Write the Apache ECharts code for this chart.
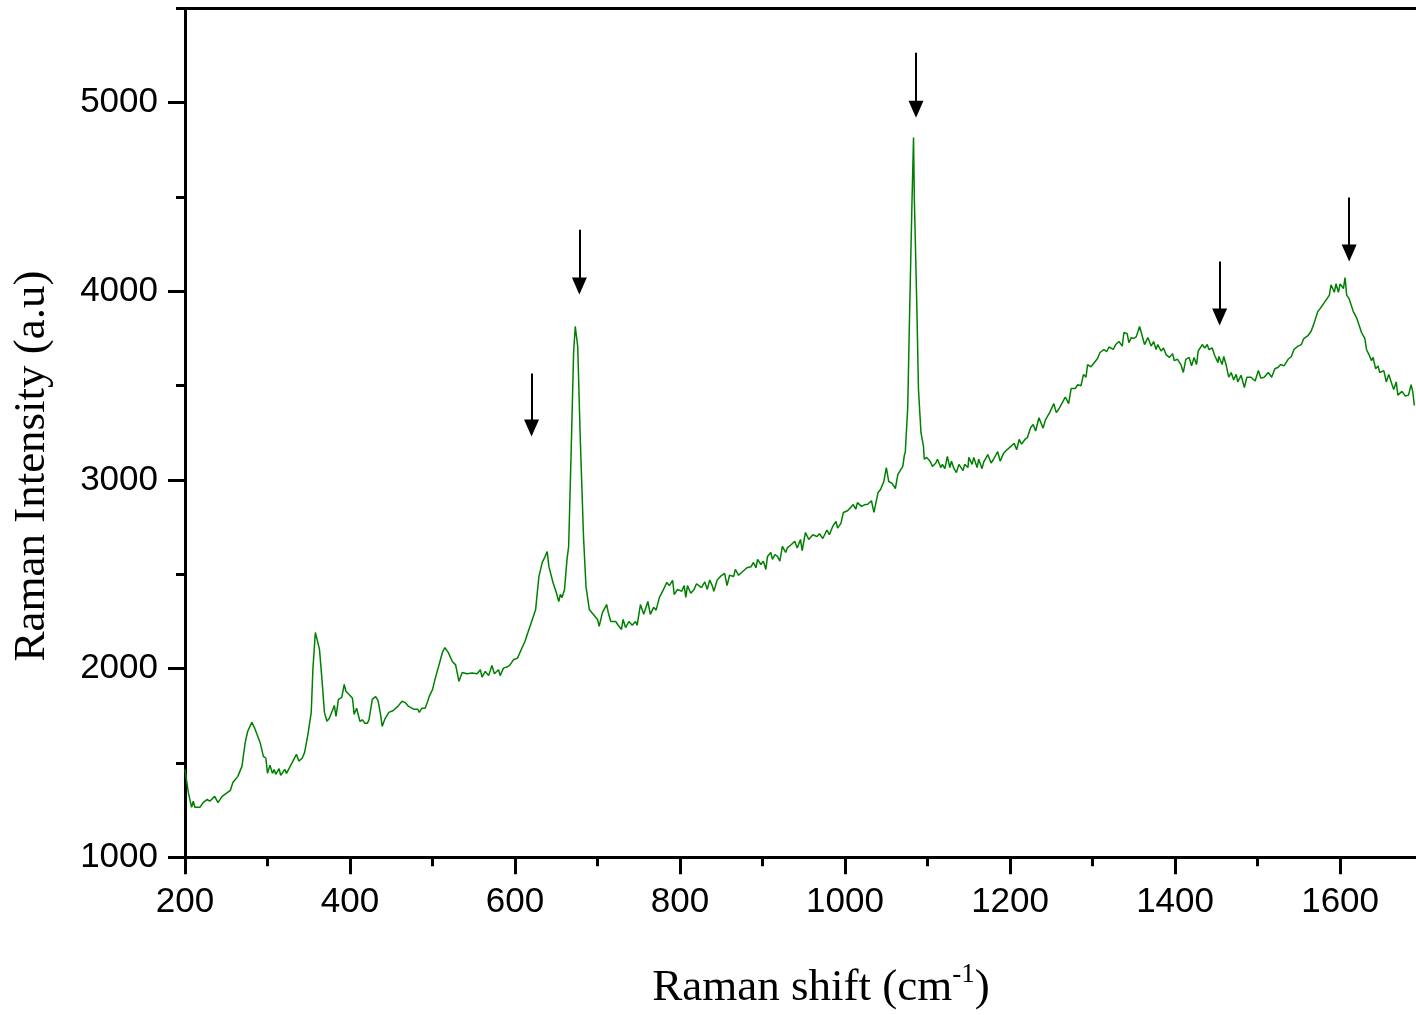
<!DOCTYPE html>
<html>
<head>
<meta charset="utf-8">
<script src="https://cdn.jsdelivr.net/npm/echarts@6/dist/echarts.min.js"></script>
<style>html,body{margin:0;padding:0;background:#fff;overflow:hidden}#c{width:1416px;height:1015px}</style>
</head>
<body>
<div id="c"></div>
<script>
// Raman shift (cm-1)
const ramanShift = [200,204,208,210,212,218,222,227,230,236,240,245,255,258,264,269,273,276,281,284,286,291,295,298,300,303,306,308,310,314,316,321,323,330,335,338,342,345,349,353,355,358,360,363,366,369,372,375,377,381,383,386,390,393,395,400,403,405,408,412,415,418,421,423,427,431,434,437,
439,442,444,447,452,458,463,467,471,477,482,484,487,491,494,496,500,503,507,512,515,519,524,528,530,532,536,542,548,554,558,560,564,568,572,575,580,582,586,591,594,598,603,606,612,616,621,625,627,629,633,636,639,641,643,646,650,653,655,657,660,663,665,668,671,673,676,679,683,686,690,693,695,700,702,706,708,711,713,716,722,725,729,731,734,738,742,746,748,752,756,761,764,768,771,775,780,784,787,791,793,797,802,805,807,809,813,817,820,826,830,833,836,839,841,845,849,854,857,860,865,867,871,876,881,886,889,892,894,898,901,904,906,910,912,915,918,921,924,928,930,935,939,942,946,948,952,956,961,966,969,973,978,981,985,989,991,995,998,
1003,1007,1010,1013,1015,1020,1024,1027,1032,1035,1040,1043,1047,1050,1053,1057,1061,1064,1066,1070,1072,1073,1076,1078,1081,1083,1084,1087,1089,1092,1095,1096,1099,1103,1106,1110,1112,1116,1118,1121,1124,1127,1129,1132,1135,1138,1143,1145,1149,1150,1154,1156,1160,1162,1166,1168,1173,1177,1180,1185,1188,1192,1195,1197,1201,1205,1208,1211,1214,1218,1221,1225,1228,1231,1235,1240,1243,1248,1253,1256,1259,1264,1267,1271,1274,1279,1282,1286,1289,1292,1294,1298,1302,1306,1309,1314,1317,1320,1325,1328,1332,1336,1338,1342,1344,1347,1350,1353,1355,1357,1361,1363,1367,1371,1374,1377,1379,1383,1386,1389,1393,1397,1399,1403,1407,1410,1413,1417,1420,1423,1426,1428,1433,1436,1439,1441,1445,1448,1452,1453,1457,1459,1462,1465,1468,1471,1474,1476,1480,1484,1487,1492,1497,1501,1504,1508,1513,1517,1521,1525,1528,1532,1537,1541,1544,1549,1553,1556,1561,1565,1568,1573,1576,1580,1584,1587,1589,1593,1595,1598,1600,1604,1606,1608,1611,1616,1620,1622,1626,1630,1632,1635,1638,1640,1643,1646,1648,1653,1656,1659,1663,1665,1668,1670,1675,1679,1683,1686,1688,1690];
// Raman intensity (a.u)
const intensity = [1466,1344,1265,1297,1265,1265,1290,1307,1297,1323,1290,1323,1355,1397,1429,1482,1609,1668,1715,1689,1690,1609,1535,1525,1445,1488,1445,1465,1440,1470,1435,1466,1445,1503,1546,1510,1525,1556,1652,1768,1996,2192,2200,2102,1943,1768,1721,1737,1732,1805,1747,1837,1848,1917,1880,1858,1843,1758,1790,1721,1729,1710,1710,1729,1837,1852,1830,1758,
1694,1731,1741,1768,1777,1800,1827,1820,1800,1785,1785,1768,1790,1790,1825,1853,1889,1943,2006,2086,2111,2086,2038,2020,2010,1933,1980,1973,1977,1973,1994,1955,1985,1963,2017,1973,1994,1963,2003,2010,2020,2047,2056,2086,2144,2197,2261,2314,2404,2489,2563,2590,2621,2542,2537,2457,2404,2356,2394,2377,2420,2579,2648,3146,3676,3814,3707,3231,2701,2436,2314,2298,2300,2261,2224,2298,2314,2340,2298,2250,2250,2230,2208,2261,2218,2250,2230,2250,2230,2340,2288,2356,2288,2325,2310,2378,2420,2457,2440,2468,2393,2420,2410,2440,2378,2440,2400,2420,2450,2430,2460,2420,2470,2440,2410,2470,2489,2505,2440,2495,2489,2526,2495,2515,2535,2540,2563,2535,2579,2552,2570,2526,2595,2616,2579,2605,2595,2570,2648,2616,2640,2658,2675,2640,2685,2625,2722,2685,2710,2700,2715,2690,2735,2710,2754,2780,2745,2770,2828,
2837,2855,2870,2845,2880,2860,2870,2870,2890,2828,2934,2950,2992,3066,2992,2982,2955,3030,3020,3072,3135,3146,3390,3834,4450,4815,4486,3920,3480,3252,3180,3110,3120,3100,3072,3090,3110,3066,3083,3060,3125,3066,3100,3060,3040,3083,3050,3083,3066,3120,3083,3120,3066,3110,3060,3095,3135,3090,3110,3150,3100,3140,3155,3150,3178,3195,3160,3215,3190,3215,3225,3278,3294,3260,3330,3275,3320,3357,3405,3357,3375,3416,3440,3405,3485,3485,3505,3500,3560,3545,3612,3600,3622,3644,3676,3692,3680,3705,3692,3718,3734,3710,3782,3775,3728,3755,3750,3760,3755,3814,3750,3718,3755,3710,3734,3692,3718,3684,3700,3665,3650,3670,3633,3640,3612,3570,3640,3650,3605,3650,3612,3684,3718,3700,3718,3692,3700,3660,3622,3655,3612,3655,3608,3545,3570,3530,3560,3520,3555,3490,3545,3545,3525,3580,3540,3545,3570,3545,3590,3598,3612,3605,3640,3655,3692,3710,3718,3750,3765,3790,3825,3893,3910,3935,3960,3980,4035,3995,4040,3995,4040,4015,4073,3980,3960,3893,3860,3850,3782,3750,3692,3665,3633,3650,3590,3605,3570,3580,3520,3560,3505,3480,3520,3450,3470,3445,3450,3505,3470,3395];

// Peak-marker arrows (x position, tail value, head value)
const arrowX = [620, 678, 1086, 1454, 1611];
const arrowTail = [3564, 4327, 5265, 4158, 4497];
const arrowHead = [3276, 4028, 4966, 3864, 4203];

// Tick labels / tick values
const xTicks = [200, 400, 600, 800, 1000, 1200, 1400, 1600];
const xMinorTicks = [300, 500, 700, 900, 1100, 1300, 1500, 1700];
const yTicks = [1000, 2000, 3000, 4000, 5000];
const yMinorTicks = [1500, 2500, 3500, 4500, 5500];

const seriesData = ramanShift.map((x, i) => [x, intensity[i]]);
const arrowData = arrowX.map((x, i) => [{coord: [x, arrowTail[i]]}, {coord: [x, arrowHead[i]]}]);

const chart = echarts.init(document.getElementById('c'), null, {renderer: 'canvas'});
const sans = 'Liberation Sans, Arial, sans-serif';
const serif = 'Liberation Serif, Times New Roman, serif';
const axLine = {show: true, onZero: false, lineStyle: {color: '#000', width: 3}};
const X_MIN = 200, X_MAX = 1692, Y_MIN = 1000, Y_MAX = 5500;
const plain = v => String(v);

chart.setOption({
  animation: false,
  backgroundColor: '#fff',
  grid: {left: 185, top: 8.4, right: 0, bottom: 157.7, containLabel: false},
  xAxis: [
    {type: 'value', min: X_MIN, max: X_MAX, interval: 200, position: 'bottom',
     axisLine: axLine,
     axisTick: {show: true, inside: false, length: 17, lineStyle: {color: '#000', width: 3}, customValues: xTicks},
     axisLabel: {show: true, customValues: xTicks, formatter: plain, fontSize: 35, color: '#000', fontFamily: sans, margin: 28},
     splitLine: {show: false}},
    {type: 'value', min: X_MIN, max: X_MAX, interval: 100, position: 'bottom',
     axisLine: {show: false},
     axisTick: {show: true, length: 9, lineStyle: {color: '#000', width: 3}, customValues: xMinorTicks},
     axisLabel: {show: false}, splitLine: {show: false}},
    {type: 'value', min: X_MIN, max: X_MAX, interval: 100, position: 'top',
     axisLine: axLine, axisTick: {show: false}, axisLabel: {show: false}, splitLine: {show: false}}
  ],
  yAxis: [
    {type: 'value', min: Y_MIN, max: Y_MAX, interval: 1000, position: 'left',
     axisLine: axLine,
     axisTick: {show: true, inside: false, length: 17, lineStyle: {color: '#000', width: 3}, customValues: yTicks},
     axisLabel: {show: true, customValues: yTicks, formatter: plain, fontSize: 35, color: '#000', fontFamily: sans, margin: 27},
     splitLine: {show: false}},
    {type: 'value', min: Y_MIN, max: Y_MAX, interval: 500, position: 'left',
     axisLine: {show: false},
     axisTick: {show: true, length: 9, lineStyle: {color: '#000', width: 3}, customValues: yMinorTicks},
     axisLabel: {show: false}, splitLine: {show: false}}
  ],
  series: [{
    type: 'line', xAxisIndex: 0, yAxisIndex: 0,
    data: seriesData, showSymbol: false, symbol: 'none',
    lineStyle: {color: '#008000', width: 1.5}, silent: true,
    markLine: {
      silent: true, animation: false,
      symbol: ['none', 'triangle'], symbolSize: [15, 17],
      label: {show: false},
      lineStyle: {color: '#000', width: 2, type: 'solid'},
      itemStyle: {color: '#000'},
      emphasis: {disabled: true},
      data: arrowData
    }
  }],
  graphic: [
    {type: 'text', x: 821, y: 988, silent: true,
     style: {text: '{a|Raman shift (cm}{s|-1}{a|)}', align: 'center', verticalAlign: 'middle',
       rich: {a: {fontSize: 45, fontFamily: serif, fill: '#000', lineHeight: 52},
              s: {fontSize: 27, fontFamily: serif, fill: '#000', lineHeight: 52, padding: [0, 0, 26, 0]}}}},
    {type: 'text', x: 32, y: 466, rotation: Math.PI / 2, silent: true,
     style: {text: 'Raman Intensity (a.u)', align: 'center', verticalAlign: 'middle',
       fontSize: 45, fontFamily: serif, fill: '#000'}}
  ]
});
</script>
</body>
</html>
